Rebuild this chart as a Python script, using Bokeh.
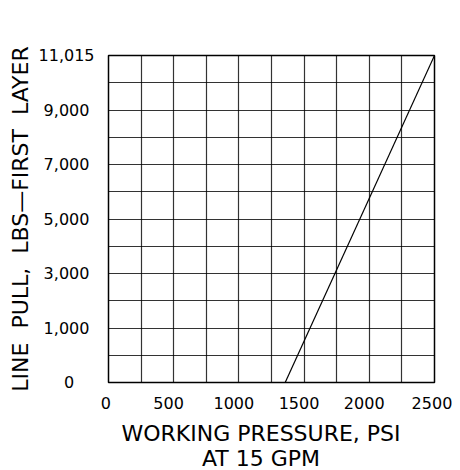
from bokeh.plotting import figure
from bokeh.models import FixedTicker
from bokeh.embed import file_html
from bokeh.resources import INLINE

# ---- data ----
x_tick_values = [0, 500, 1000, 1500, 2000, 2500]
x_tick_labels = ["0", "500", "1000", "1500", "2000", "2500"]
x_grid_values = [0, 250, 500, 750, 1000, 1250, 1500, 1750, 2000, 2250, 2500]
y_max = 11015
y_rows = 12
y_tick_labels = ["0", "1,000", "3,000", "5,000", "7,000", "9,000", "11,015"]
line_psi = [1355, 2500]
line_pull = [0, 11015]

NB = "\u00a0"
row = y_max / y_rows
y_grid_values = [i * row for i in range(y_rows + 1)]
y_tick_values = [y_grid_values[i] for i in range(0, y_rows + 1, 2)]


def units(s):
    return sum(1 if c == "," else 2 for c in s)


widest = max(units(s) for s in y_tick_labels)
# centre the y labels in their column (labels are right-aligned by Bokeh)
y_label_text = [s + NB * round((widest - units(s)) / 2) for s in y_tick_labels]
x_shift = [1, 2, 2, 2, 2, 1]
x_label_text = [s + NB * k for s, k in zip(x_tick_labels, x_shift)]

FONT = "DejaVu Sans"

p = figure(width=460, height=470, output_backend="svg", toolbar_location=None,
           x_range=(0, 2500), y_range=(0, y_max),
           frame_width=326, frame_height=327,
           min_border_left=108, min_border_right=26, min_border_top=55,
           min_border_bottom=88)

p.line(line_psi, line_pull, line_color="black", line_width=1.2)

p.outline_line_color = "black"
p.outline_line_width = 1.5

p.xgrid.ticker = FixedTicker(ticks=x_grid_values)
p.ygrid.ticker = FixedTicker(ticks=y_grid_values)
for g in (p.xgrid, p.ygrid):
    g.grid_line_color = "black"
    g.grid_line_width = 1.2
    g.grid_line_alpha = 0.8

p.xaxis.ticker = FixedTicker(ticks=x_tick_values)
p.xaxis.major_label_overrides = {v: s for v, s in zip(x_tick_values, x_label_text)}
p.yaxis.ticker = FixedTicker(ticks=y_tick_values)
p.yaxis.major_label_overrides = {v: s for v, s in zip(y_tick_values, y_label_text)}

for ax in (p.xaxis, p.yaxis):
    ax.axis_line_color = None
    ax.major_tick_line_color = None
    ax.minor_tick_line_color = None
    ax.major_label_text_font = FONT
    ax.major_label_text_font_size = "16px"
    ax.major_label_text_color = "black"
    ax.axis_label_text_font = FONT
    ax.axis_label_text_font_size = "22px"
    ax.axis_label_text_font_style = "normal"
    ax.axis_label_text_color = "black"

p.xaxis.major_label_standoff = 5
p.yaxis.major_label_standoff = 8
p.xaxis.axis_label = "WORKING PRESSURE, PSI" + NB * 3 + "\nAT 15 GPM" + NB * 3
p.xaxis.axis_label_standoff = 5
p.xaxis.axis_label_text_line_height = 1.0
p.yaxis.axis_label = "LINE" + NB * 2 + "PULL," + NB * 2 + "LBS\u2014FIRST" + NB * 2 + "LAYER"
p.yaxis.axis_label_standoff = 3

open("out.html", "w").write(file_html(p, INLINE))
